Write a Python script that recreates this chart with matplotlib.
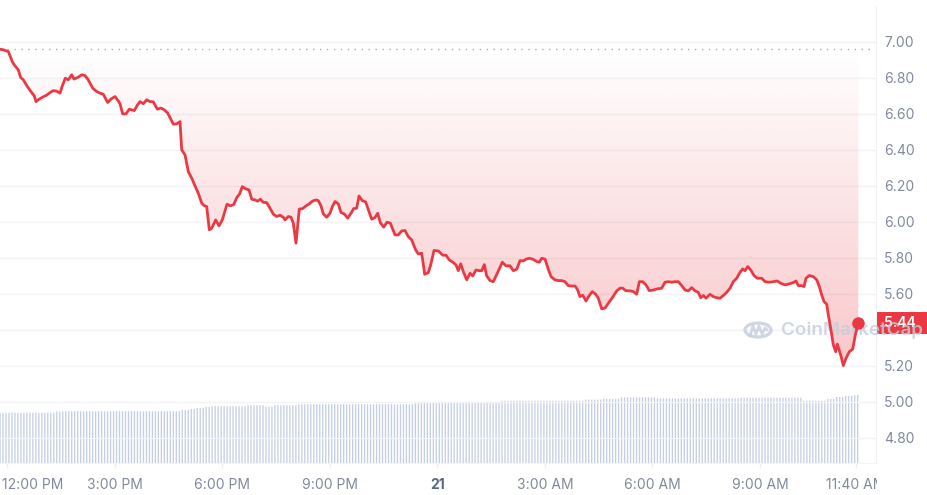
import numpy as np
import matplotlib
matplotlib.use("Agg")
import matplotlib.pyplot as plt
from matplotlib.patches import Rectangle, Circle
from matplotlib.transforms import blended_transform_factory, ScaledTranslation, Bbox, TransformedBbox

plt.rcParams['font.family'] = ['Inter', 'DejaVu Sans']

# hours since 12:00 PM (day 20) and price in USD
hours = [-0.195, -0.103, 0.036, 0.159, 0.223, 0.315, 0.382, 0.455, 0.566, 0.689,
         0.761, 0.809, 0.901, 0.996, 1.107, 1.199, 1.291, 1.386, 1.478, 1.553,
         1.626, 1.709, 1.804, 1.868, 1.988, 2.083, 2.175, 2.267, 2.390, 2.501,
         2.593, 2.685, 2.808, 2.900, 3.012, 3.104, 3.151, 3.226, 3.318, 3.411,
         3.550, 3.634, 3.709, 3.801, 3.896, 3.988, 4.080, 4.191, 4.294, 4.387,
         4.481, 4.565, 4.638, 4.732, 4.824, 4.872, 4.964, 5.056, 5.151, 5.243,
         5.335, 5.430, 5.494, 5.569, 5.642, 5.708, 5.820, 5.912, 6.004, 6.135,
         6.227, 6.322, 6.414, 6.489, 6.562, 6.657, 6.749, 6.824, 6.916, 6.991,
         7.064, 7.147, 7.242, 7.334, 7.426, 7.521, 7.613, 7.705, 7.753, 7.845,
         7.920, 7.984, 8.059, 8.151, 8.246, 8.338, 8.430, 8.514, 8.617, 8.681,
         8.756, 8.821, 8.915, 9.007, 9.083, 9.147, 9.239, 9.314, 9.406, 9.501,
         9.593, 9.668, 9.752, 9.816, 9.908, 10.003, 10.095, 10.170, 10.262, 10.338,
         10.410, 10.505, 10.597, 10.689, 10.820, 10.912, 11.007, 11.099, 11.191, 11.286,
         11.397, 11.470, 11.565, 11.648, 11.748, 11.815, 11.907, 12.027, 12.150, 12.242,
         12.334, 12.446, 12.521, 12.585, 12.652, 12.725, 12.820, 12.912, 12.987, 13.079,
         13.171, 13.238, 13.311, 13.377, 13.469, 13.561, 13.673, 13.812, 13.916, 14.027,
         14.120, 14.214, 14.306, 14.398, 14.473, 14.565, 14.660, 14.771, 14.844, 14.911,
         15.003, 15.095, 15.170, 15.282, 15.374, 15.469, 15.561, 15.653, 15.748, 15.840,
         15.904, 15.979, 16.054, 16.146, 16.230, 16.322, 16.417, 16.489, 16.584, 16.676,
         16.768, 16.891, 17.003, 17.095, 17.170, 17.254, 17.373, 17.466, 17.560, 17.633,
         17.728, 17.820, 17.912, 18.024, 18.135, 18.258, 18.350, 18.442, 18.537, 18.629,
         18.720, 18.815, 18.907, 19.000, 19.094, 19.186, 19.278, 19.345, 19.418, 19.493,
         19.604, 19.697, 19.791, 19.883, 19.975, 20.070, 20.162, 20.254, 20.349, 20.441,
         20.516, 20.580, 20.656, 20.739, 20.831, 20.924, 21.046, 21.138, 21.258, 21.370,
         21.481, 21.576, 21.696, 21.816, 21.927, 22.003, 22.067, 22.161, 22.226, 22.281,
         22.373, 22.485, 22.580, 22.652, 22.719, 22.784, 22.859, 22.903, 22.970, 23.043,
         23.110, 23.154, 23.249, 23.322, 23.397, 23.489, 23.584, 23.656, 23.740]

price = [6.959, 6.956, 6.946, 6.885, 6.867, 6.844, 6.802, 6.789, 6.752, 6.718,
         6.700, 6.668, 6.682, 6.693, 6.704, 6.718, 6.729, 6.726, 6.715, 6.761,
         6.798, 6.789, 6.817, 6.793, 6.804, 6.817, 6.813, 6.789, 6.743, 6.724,
         6.715, 6.709, 6.663, 6.682, 6.696, 6.672, 6.656, 6.600, 6.600, 6.626,
         6.618, 6.648, 6.668, 6.656, 6.678, 6.668, 6.667, 6.626, 6.632, 6.622,
         6.604, 6.571, 6.543, 6.544, 6.557, 6.400, 6.372, 6.279, 6.243, 6.200,
         6.159, 6.104, 6.091, 6.085, 5.956, 5.965, 6.011, 5.978, 6.011, 6.098,
         6.089, 6.096, 6.137, 6.156, 6.196, 6.183, 6.178, 6.126, 6.122, 6.115,
         6.126, 6.109, 6.107, 6.076, 6.043, 6.030, 6.037, 6.026, 6.011, 6.030,
         6.026, 5.993, 5.882, 6.071, 6.074, 6.089, 6.100, 6.115, 6.122, 6.118,
         6.089, 6.044, 6.026, 6.048, 6.089, 6.113, 6.100, 6.052, 6.044, 6.021,
         6.048, 6.074, 6.076, 6.144, 6.118, 6.111, 6.057, 6.015, 6.024, 6.048,
         5.996, 5.971, 5.998, 5.993, 5.928, 5.928, 5.950, 5.952, 5.918, 5.900,
         5.844, 5.822, 5.826, 5.709, 5.718, 5.761, 5.841, 5.839, 5.815, 5.815,
         5.789, 5.774, 5.761, 5.729, 5.767, 5.724, 5.678, 5.715, 5.700, 5.733,
         5.729, 5.729, 5.763, 5.700, 5.674, 5.668, 5.715, 5.776, 5.756, 5.756,
         5.729, 5.737, 5.785, 5.783, 5.793, 5.798, 5.793, 5.780, 5.776, 5.798,
         5.793, 5.737, 5.696, 5.678, 5.674, 5.674, 5.668, 5.646, 5.644, 5.644,
         5.626, 5.585, 5.593, 5.561, 5.589, 5.613, 5.598, 5.576, 5.517, 5.521,
         5.548, 5.582, 5.617, 5.632, 5.632, 5.618, 5.617, 5.613, 5.598, 5.668,
         5.668, 5.650, 5.618, 5.622, 5.628, 5.632, 5.665, 5.668, 5.665, 5.668,
         5.668, 5.646, 5.622, 5.617, 5.635, 5.617, 5.609, 5.579, 5.591, 5.576,
         5.598, 5.585, 5.579, 5.576, 5.591, 5.609, 5.632, 5.668, 5.687, 5.720,
         5.739, 5.729, 5.752, 5.733, 5.702, 5.687, 5.687, 5.668, 5.665, 5.668,
         5.672, 5.659, 5.650, 5.656, 5.663, 5.672, 5.646, 5.646, 5.641, 5.687,
         5.702, 5.696, 5.678, 5.641, 5.594, 5.557, 5.543, 5.483, 5.409, 5.317,
         5.279, 5.321, 5.261, 5.202, 5.243, 5.279, 5.294, 5.372, 5.440]

# volume (relative units), flat levels, each valid until vol_until
vol_until = [1.34, 4.87, 5.10, 5.30, 5.52, 5.66, 6.64, 7.14, 7.39, 8.11, 11.32,
             11.60, 13.75, 16.06, 16.62, 17.09, 18.10, 20.44, 22.20, 22.87, 23.09,
             23.37, 23.56, 23.80]
vol_level = [50.5, 52.0, 53.3, 54.3, 55.3, 56.3, 57.0, 58.0, 56.6, 58.0, 59.0,
             60.0, 61.3, 62.6, 63.6, 64.6, 66.0, 65.0, 65.6, 62.6, 64.3,
             66.3, 67.3, 68.3]

xtick_pos = [0, 3, 6, 9, 12, 15, 18, 21, 23.667]
xtick_lab = ["12:00 PM", "3:00 PM", "6:00 PM", "9:00 PM", "21",
             "3:00 AM", "6:00 AM", "9:00 AM", "11:40 AM"]
yticks = [4.8, 5.0, 5.2, 5.4, 5.6, 5.8, 6.0, 6.2, 6.4, 6.6, 6.8, 7.0]

RED = '#ea3943'
GREY = '#808a9d'
MARK = '#c5cddb'

hours = np.array(hours)
price = np.array(price)
base = price[0]

fig = plt.figure(figsize=(9.28, 4.95), dpi=100)
W, H = 928, 495
ax = fig.add_axes([0, 32 / H, 876 / W, 457 / H])
vax = fig.add_axes(ax.get_position(), sharex=ax)

# volume bars
bar_t = np.arange(hours[0], hours[-1] + 0.001, 5 / 60)
idx = np.searchsorted(vol_until, bar_t)
idx = np.clip(idx, 0, len(vol_level) - 1)
bar_v = np.array(vol_level)[idx]
vax.bar(bar_t, bar_v, width=0.036, color='#c4cee3', linewidth=0, snap=False)
vax.set_ylim(0, 459)
vax.axis('off')

ax.set_zorder(vax.get_zorder() + 1)
ax.patch.set_visible(False)

ax.set_xlim(-0.195, 24.233)
ax.set_ylim(4.661, 7.199)

# gradient fill between price and opening price
poly = ax.fill_between(hours, price, base, where=price <= base, interpolate=True,
                       facecolor='none', edgecolor='none')
grad = np.zeros((256, 1, 4))
grad[:, 0, 0] = 0xea / 255
grad[:, 0, 1] = 0x39 / 255
grad[:, 0, 2] = 0x43 / 255
grad[:, 0, 3] = np.linspace(0.0, 0.30, 256)[::-1]
img = ax.imshow(grad, aspect='auto', extent=[hours[0], hours[-1], 5.1, base],
                origin='lower', zorder=1)
img.set_clip_path(poly.get_paths()[0], transform=ax.transData)

ax.axhline(base, xmax=872 / 876, color='#a6adba', lw=1, linestyle=(0, (1, 4)), zorder=2)

ax.plot(hours, price, color=RED, lw=2.0, zorder=5, solid_joinstyle='round')
ax.plot(hours[-1], price[-1], 'o', color=RED, ms=8, zorder=6)

# grid and axes
ax.set_yticks(yticks)
ax.yaxis.tick_right()
ax.set_yticklabels(["" if abs(v - 5.4) < 1e-6 else f"{v:.2f}" for v in yticks])
ax.tick_params(axis='y', length=0, pad=6, labelsize=10, labelcolor=GREY)
ax.grid(axis='y', color='#f1f3f6', lw=1)
ax.set_axisbelow(True)

ax.set_xticks(xtick_pos)
ax.set_xticklabels(xtick_lab)
ax.tick_params(axis='x', length=3.5, width=1, color='#eceff3', pad=7,
               labelsize=10, labelcolor=GREY)
for sp in ['top', 'left']:
    ax.spines[sp].set_visible(False)
ax.spines['right'].set_color('#eff1f4')
ax.spines['bottom'].set_color('#f3f4f7')

labels = ax.get_xticklabels()
labels[0].set_horizontalalignment('left')
labels[0].set_transform(labels[0].get_transform() + ScaledTranslation(-5 / 100, 0, fig.dpi_scale_trans))
labels[4].set_fontweight('bold')
labels[4].set_color('#58667e')
clip = TransformedBbox(Bbox.from_extents(0, 0, 877 / W, 1), fig.transFigure)
labels[-1].set_clip_box(clip)
labels[-1].set_clip_on(True)

# last price box
tr = blended_transform_factory(ax.transAxes, ax.transData)
ax.add_patch(Rectangle((1.001, price[-1] - 0.061), 0.06, 0.122, transform=tr,
                       facecolor=RED, edgecolor='none', clip_on=False, zorder=3))
ax.text(1.0095, price[-1] - 0.003, f"{price[-1]:.2f}", transform=tr, color='white',
        fontsize=10, fontweight='semibold', va='center', ha='left', clip_on=False, zorder=3.5)

# watermark
ax.add_patch(Circle((758 / W, 165 / H), 13 / W, transform=fig.transFigure, fill=False,
                    edgecolor=MARK, lw=2.4, alpha=0.8, zorder=4, clip_on=False))
wx = np.array([750, 753, 756, 759, 762, 765, 767]) / W
wy = (495 - np.array([336, 326, 334, 326, 334, 328, 330])) / H
ax.plot(wx, wy, transform=fig.transFigure, color=MARK, lw=2.0, alpha=0.8,
        zorder=4, clip_on=False, solid_capstyle='round', solid_joinstyle='round')
ax.text(781 / W, 165 / H, "CoinMarketCap", transform=fig.transFigure, color=MARK,
        alpha=0.8, fontsize=13.5, fontweight='semibold', va='center', ha='left',
        zorder=4, clip_on=False)

fig.savefig("out.png", dpi=100)
